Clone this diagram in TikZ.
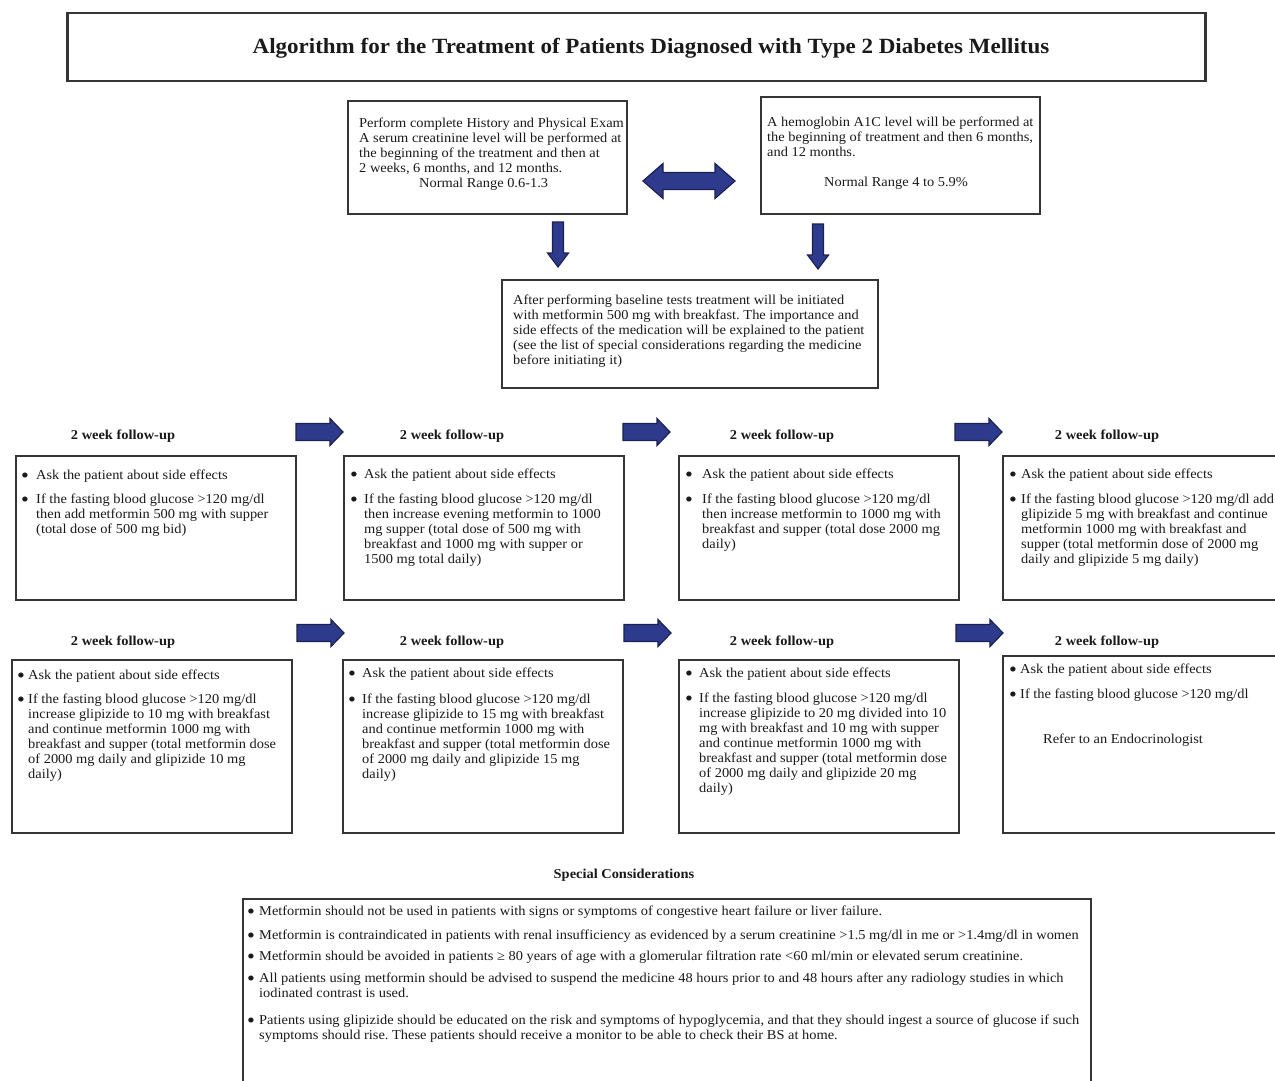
\documentclass[tikz,border=0pt]{standalone}
\usepackage{fontspec}
\setmainfont{Liberation Serif}[FakeStretch=1.06]
\definecolor{txtc}{HTML}{1A1A1A}
\definecolor{boxc}{HTML}{353535}
\definecolor{arrfill}{HTML}{2E3A8C}
\definecolor{arrdraw}{HTML}{1B2150}
\newcommand\mybul{\raisebox{-0.24em}{\scalebox{1.55}{\textbullet}}}
\newcommand\bitem[2]{\hangindent=#1\hangafter=1\noindent\makebox[#1][l]{\mybul}#2\par}
\newcommand\tb[1]{\parbox[t]{1000pt}{\frenchspacing #1}}
\begin{document}
\begin{tikzpicture}[x=1pt,y=-1pt,
  box/.style={draw=boxc, line width=2pt, fill=white, inner sep=0pt, anchor=north west},
  txt/.style={anchor=base west, inner sep=0pt, text=txtc, font=\fontsize{13.6}{15}\selectfont},
  lbl/.style={anchor=base, inner sep=0pt, text=txtc, font=\bfseries\fontsize{13.6}{15}\selectfont},
  blockarrow/.style={fill=arrfill, draw=arrdraw, line width=1.2pt, line join=miter},
  pics/rarr/.style={code={\filldraw[blockarrow] (0,-8.5) -- (34,-8.5) -- (34,-13.5) -- (47,0) -- (34,13.5) -- (34,8.5) -- (0,8.5) -- cycle;}},
  pics/darr/.style={code={\filldraw[blockarrow] (-5.5,0) -- (5.5,0) -- (5.5,31) -- (10.5,31) -- (0,45) -- (-10.5,31) -- (-5.5,31) -- cycle;}},
  pics/dblarr/.style={code={\filldraw[blockarrow] (-46,0) -- (-26,-17.5) -- (-26,-8.5) -- (26,-8.5) -- (26,-17.5) -- (46,0) -- (26,17.5) -- (26,8.5) -- (-26,8.5) -- (-26,17.5) -- cycle;}}
]
\fill[white] (0,0) rectangle (1275,1081);
\useasboundingbox (0,0) rectangle (1275,1081);
\clip (0,0) rectangle (1275,1081);

% title
\node[box, line width=2.5pt, minimum width=1138pt, minimum height=68pt] (title) at (66,12) {};
\node[anchor=base, inner sep=0pt, text=txtc, font=\bfseries\fontsize{21.7}{24}\selectfont] (titletext) at (651,54)
  {Algorithm for the Treatment of Patients Diagnosed with Type 2 Diabetes Mellitus};

% top boxes
\node[box, minimum width=279pt, minimum height=113pt] (bA) at (347,100) {};
\node[txt] (tA) at (359,127) {\tb{Perform complete History and Physical Exam\\
A serum creatinine level will be performed at\\
the beginning of the treatment and then at\\
2 weeks, 6 months, and 12 months.\\
\hspace*{60pt}Normal Range 0.6-1.3}};

\node[box, minimum width=279pt, minimum height=117pt] (bB) at (760,96) {};
\node[txt] (tB) at (767,126) {\tb{A hemoglobin A1C level will be performed at\\
the beginning of treatment and then 6 months,\\
and 12 months.\\[15pt]
\hspace*{57pt}Normal Range 4 to 5.9\%}};

\pic (dbl) at (689,181) {dblarr};
\pic (dA) at (558,222) {darr};
\pic (dB) at (818,224) {darr};

\node[box, minimum width=376pt, minimum height=108pt] (bC) at (501,279) {};
\node[txt] (tC) at (513,304) {\tb{After performing baseline tests treatment will be initiated\\
with metformin 500 mg with breakfast. The importance and\\
side effects of the medication will be explained to the patient\\
(see the list of special considerations regarding the medicine\\
before initiating it)}};

% row 1
\node[lbl] (l1) at (123,439) {2 week follow-up};
\node[lbl] (l2) at (452,439) {2 week follow-up};
\node[lbl] (l3) at (782,439) {2 week follow-up};
\node[lbl] (l4) at (1107,439) {2 week follow-up};
\pic (r1) at (296,432) {rarr};
\pic (r2) at (623,432) {rarr};
\pic (r3) at (955,432) {rarr};

\node[box, minimum width=280pt, minimum height=144pt] (b1) at (15,455) {};
\node[box, minimum width=280pt, minimum height=144pt] (b2) at (343,455) {};
\node[box, minimum width=280pt, minimum height=144pt] (b3) at (678,455) {};
\node[box, minimum width=285pt, minimum height=144pt] (b4) at (1002,455) {};

\node[txt] (t1) at (21,479) {\tb{\bitem{15pt}{Ask the patient about side effects}\vspace{9pt}
\bitem{15pt}{If the fasting blood glucose >120 mg/dl\\then add metformin 500 mg with supper\\(total dose of 500 mg bid)}}};
\node[txt] (t2) at (350,478) {\tb{\bitem{14pt}{Ask the patient about side effects}\vspace{10pt}
\bitem{14pt}{If the fasting blood glucose >120 mg/dl\\then increase evening metformin to 1000\\mg supper (total dose of 500 mg with\\breakfast and 1000 mg with supper or\\1500 mg total daily)}}};
\node[txt] (t3) at (685,478) {\tb{\bitem{17pt}{Ask the patient about side effects}\vspace{10pt}
\bitem{17pt}{If the fasting blood glucose >120 mg/dl\\then increase metformin to 1000 mg with\\breakfast and supper (total dose 2000 mg\\daily)}}};
\node[txt] (t4) at (1009,478) {\tb{\bitem{12pt}{Ask the patient about side effects}\vspace{10pt}
\bitem{12pt}{If the fasting blood glucose >120 mg/dl add\\glipizide 5 mg with breakfast and continue\\metformin 1000 mg with breakfast and\\supper (total metformin dose of 2000 mg\\daily and glipizide 5 mg daily)}}};

% row 2
\node[lbl] (l5) at (123,645) {2 week follow-up};
\node[lbl] (l6) at (452,645) {2 week follow-up};
\node[lbl] (l7) at (782,645) {2 week follow-up};
\node[lbl] (l8) at (1107,645) {2 week follow-up};
\pic (r4) at (297,633) {rarr};
\pic (r5) at (624,633) {rarr};
\pic (r6) at (956,633) {rarr};

\node[box, minimum width=280pt, minimum height=173pt] (b5) at (11,659) {};
\node[box, minimum width=280pt, minimum height=173pt] (b6) at (342,659) {};
\node[box, minimum width=280pt, minimum height=173pt] (b7) at (678,659) {};
\node[box, minimum width=285pt, minimum height=177pt] (b8) at (1002,655) {};

\node[txt] (t5) at (17,679) {\tb{\bitem{11pt}{Ask the patient about side effects}\vspace{9pt}
\bitem{11pt}{If the fasting blood glucose >120 mg/dl\\increase glipizide to 10 mg with breakfast\\and continue metformin 1000 mg with\\breakfast and supper (total metformin dose\\of 2000 mg daily and glipizide 10 mg\\daily)}}};
\node[txt] (t6) at (348,677) {\tb{\bitem{14pt}{Ask the patient about side effects}\vspace{11pt}
\bitem{14pt}{If the fasting blood glucose >120 mg/dl\\increase glipizide to 15 mg with breakfast\\and continue metformin 1000 mg with\\breakfast and supper (total metformin dose\\of 2000 mg daily and glipizide 15 mg\\daily)}}};
\node[txt] (t7) at (685,677) {\tb{\bitem{14pt}{Ask the patient about side effects}\vspace{10pt}
\bitem{14pt}{If the fasting blood glucose >120 mg/dl\\increase glipizide to 20 mg divided into 10\\mg with breakfast and 10 mg with supper\\and continue metformin 1000 mg with\\breakfast and supper (total metformin dose\\of 2000 mg daily and glipizide 20 mg\\daily)}}};
\node[txt] (t8) at (1009,673) {\tb{\bitem{11pt}{Ask the patient about side effects}\vspace{10pt}
\bitem{11pt}{If the fasting blood glucose >120 mg/dl}}};
\node[txt] (t8b) at (1043,743) {Refer to an Endocrinologist};

% special considerations
\node[lbl] (sc) at (624,878) {Special Considerations};
\node[box, minimum width=848pt, minimum height=195pt] (bS) at (242,898) {};
\node[txt] (tS) at (247,915) {\tb{\bitem{12pt}{Metformin should not be used in patients with signs or symptoms of congestive heart failure or liver failure.}\vspace{9pt}
\bitem{12pt}{Metformin is contraindicated in patients with renal insufficiency as evidenced by a serum creatinine >1.5 mg/dl in me or >1.4mg/dl in women}\vspace{6pt}
\bitem{12pt}{Metformin should be avoided in patients ≥ 80 years of age with a glomerular filtration rate <60 ml/min or elevated serum creatinine.}\vspace{7pt}
\bitem{12pt}{All patients using metformin should be advised to suspend the medicine 48 hours prior to and 48 hours after any radiology studies in which\\iodinated contrast is used.}\vspace{12pt}
\bitem{12pt}{Patients using glipizide should be educated on the risk and symptoms of hypoglycemia, and that they should ingest a source of glucose if such\\symptoms should rise. These patients should receive a monitor to be able to check their BS at home.}}};
\end{tikzpicture}
\end{document}
